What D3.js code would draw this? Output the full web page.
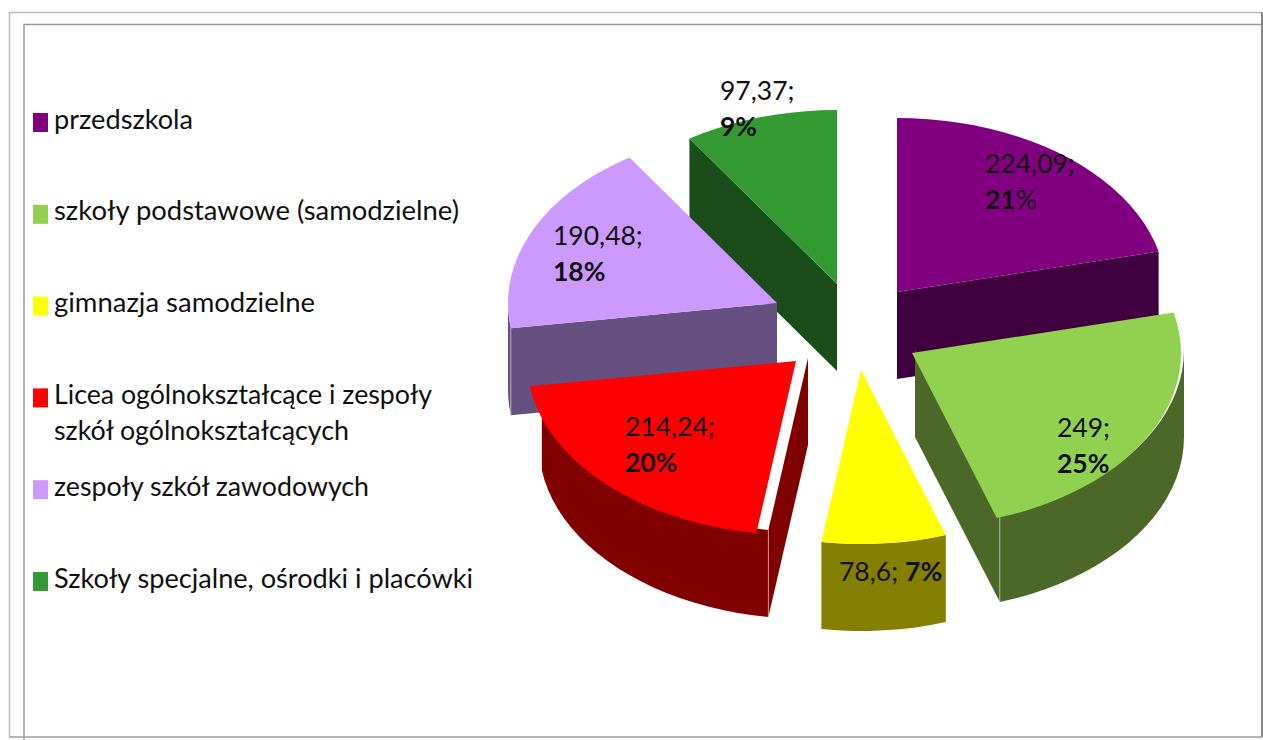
<!DOCTYPE html>
<html>
<head>
<meta charset="utf-8">
<script src="https://cdn.jsdelivr.net/npm/d3@7"></script>
<style>
  html, body { margin: 0; padding: 0; background: #fff; overflow: hidden; }
  svg { display: block; }
  text { font-family: Lato, "Open Sans", sans-serif; fill: #111; }
</style>
</head>
<body>
<svg id="chart" width="1263" height="740"></svg>
<script>
// chart data
const categories = [
  'przedszkola',
  'szkoły podstawowe (samodzielne)',
  'gimnazja samodzielne',
  'Licea ogólnokształcące i zespoły szkół ogólnokształcących',
  'zespoły szkół zawodowych',
  'Szkoły specjalne, ośrodki i placówki'
];
const values = [224.09, 249, 78.6, 214.24, 190.48, 97.37];
const valueLabels = ['224,09;', '249;', '78,6;', '214,24;', '190,48;', '97,37;'];
const percentLabels = ['21', '25', '7', '20', '18', '9'];
const legendLines = [
  ['przedszkola'],
  ['szkoły podstawowe (samodzielne)'],
  ['gimnazja samodzielne'],
  ['Licea ogólnokształcące i zespoły', 'szkół ogólnokształcących'],
  ['zespoły szkół zawodowych'],
  ['Szkoły specjalne, ośrodki i placówki']
];

// colours
const topColors = ['#800080', '#92d050', '#ffff00', '#ff0000', '#cc99ff', '#339933'];
const wallColors = ['#400040', '#4c6828', '#857f00', '#800000', '#66507f', '#1a4d1a'];

// layout of the exploded pie
const CENTER = { x: 846, y: 326 };
const RX = 269;
const RY = 174;
const DEPTH = 87;
const explode = [[51, -34], [66, 27], [15, 44], [-50, 35], [-69, -23], [-9, -42]];
const wallShift = [[0, 0], [3, -3], [0, 0], [12, -3], [0, 0], [0, 0]];
const drawOrder = [5, 4, 0, 3, 1, 2];

// where the data labels start
const labelPos = [[985, 173], [1057, 437], [839, 581], [625, 436], [553, 245], [720, 100]];
const LABEL_LINE = 35.5;

// legend text widths as measured, by line
const legendWidths = [[139], [405], [261], [378, 295], [315], [419]];

const svg = d3.select('#chart');

// frame
const frame = svg.append('g').attr('fill', 'none');
frame.append('path').attr('d', 'M9.5,737V12.5H1262').attr('stroke', '#bcbcbc').attr('stroke-width', 1.5);
frame.append('path').attr('d', 'M9,737H1262').attr('stroke', '#b5b5b5').attr('stroke-width', 2);
frame.append('path').attr('d', 'M24,740V24.5H1263').attr('stroke', '#999').attr('stroke-width', 1.5);
frame.append('path').attr('d', 'M1262,12V737').attr('stroke', '#888').attr('stroke-width', 2);

// projection of the unit circle onto the tilted pie
const xScale = d3.scaleLinear().domain([-1, 1]).range([-RX, RX]);
const yScale = d3.scaleLinear().domain([-1, 1]).range([-RY, RY]);
const project = a => [xScale(Math.sin(a)), yScale(-Math.cos(a))];
const line = d3.line();

const arcs = d3.pie().sort(null).startAngle(0).endAngle(2 * Math.PI)(values);

function rimPoints(a0, a1) {
  const n = Math.max(2, Math.ceil((a1 - a0) / 0.06));
  return d3.range(n + 1).map(i => project(a0 + (a1 - a0) * i / n));
}

function drawSlice(i) {
  const arc = arcs[i];
  const [ex, ey] = explode[i];
  const [sx, sy] = wallShift[i];
  const g = svg.append('g').attr('class', 'slice')
    .attr('transform', `translate(${CENTER.x + ex},${CENTER.y + ey})`);
  const walls = g.append('g')
    .attr('transform', `translate(${sx},${sy})`)
    .attr('fill', wallColors[i]);

  // rounded outer wall, lower half of the ellipse
  const a0 = Math.max(arc.startAngle, Math.PI / 2);
  const a1 = Math.min(arc.endAngle, 3 * Math.PI / 2);
  if (a1 > a0) {
    const rim = rimPoints(a0, a1);
    const low = rim.map(p => [p[0], p[1] + DEPTH]).reverse();
    walls.append('path').attr('d', line(rim.concat(low)) + 'Z');
  }

  // flat cut faces, only those turned to the viewer
  const face = a => {
    const p = project(a);
    walls.append('path').attr('d', line([[0, 0], p, [p[0], p[1] + DEPTH], [0, DEPTH]]) + 'Z');
    // pale seam where the cut face meets the rounded wall
    if (Math.cos(a) < 0) {
      walls.append('path')
        .attr('d', line([p, [p[0], p[1] + DEPTH]]))
        .attr('fill', 'none')
        .attr('stroke', '#fff')
        .attr('stroke-opacity', 0.45)
        .attr('stroke-width', 1);
    }
  };
  if (Math.sin(arc.startAngle) < -1e-6) face(arc.startAngle);
  if (Math.sin(arc.endAngle) > 1e-6) face(arc.endAngle);

  // top surface
  g.append('path')
    .attr('d', line([[0, 0]].concat(rimPoints(arc.startAngle, arc.endAngle))) + 'Z')
    .attr('fill', topColors[i]);
}
drawOrder.forEach(drawSlice);

// data labels
const labels = svg.append('g').attr('font-size', 26.5);
values.forEach((v, i) => {
  const [x, y] = labelPos[i];
  const inline = i === 2; // the yellow slice keeps it on one line
  const t = labels.append('text').attr('x', x).attr('y', y);
  t.append('tspan').text(valueLabels[i]);
  const pct = t.append('tspan').attr('font-weight', 700);
  if (inline) pct.attr('dx', 7);
  else pct.attr('x', x).attr('dy', LABEL_LINE);
  pct.text(percentLabels[i] + (i === 0 ? '' : '%'));
  if (i === 0) t.append('tspan').text('%');
});

// legend
const legendY = d3.scalePoint().domain(d3.range(categories.length)).range([113, 572]);
const legend = svg.append('g').selectAll('g')
  .data(categories)
  .join('g')
  .attr('transform', (d, i) => `translate(33,${legendY(i)})`);
legend.append('rect')
  .attr('width', 15).attr('height', 19)
  .attr('fill', (d, i) => topColors[i]);
legend.each(function (d, i) {
  d3.select(this).selectAll('text')
    .data(legendLines[i])
    .join('text')
    .attr('x', 21)
    .attr('y', (l, j) => 15.5 + j * 36)
    .attr('font-size', 27)
    .attr('textLength', (l, j) => legendWidths[i][j])
    .attr('lengthAdjust', 'spacingAndGlyphs')
    .text(l => l);
});
</script>
</body>
</html>
